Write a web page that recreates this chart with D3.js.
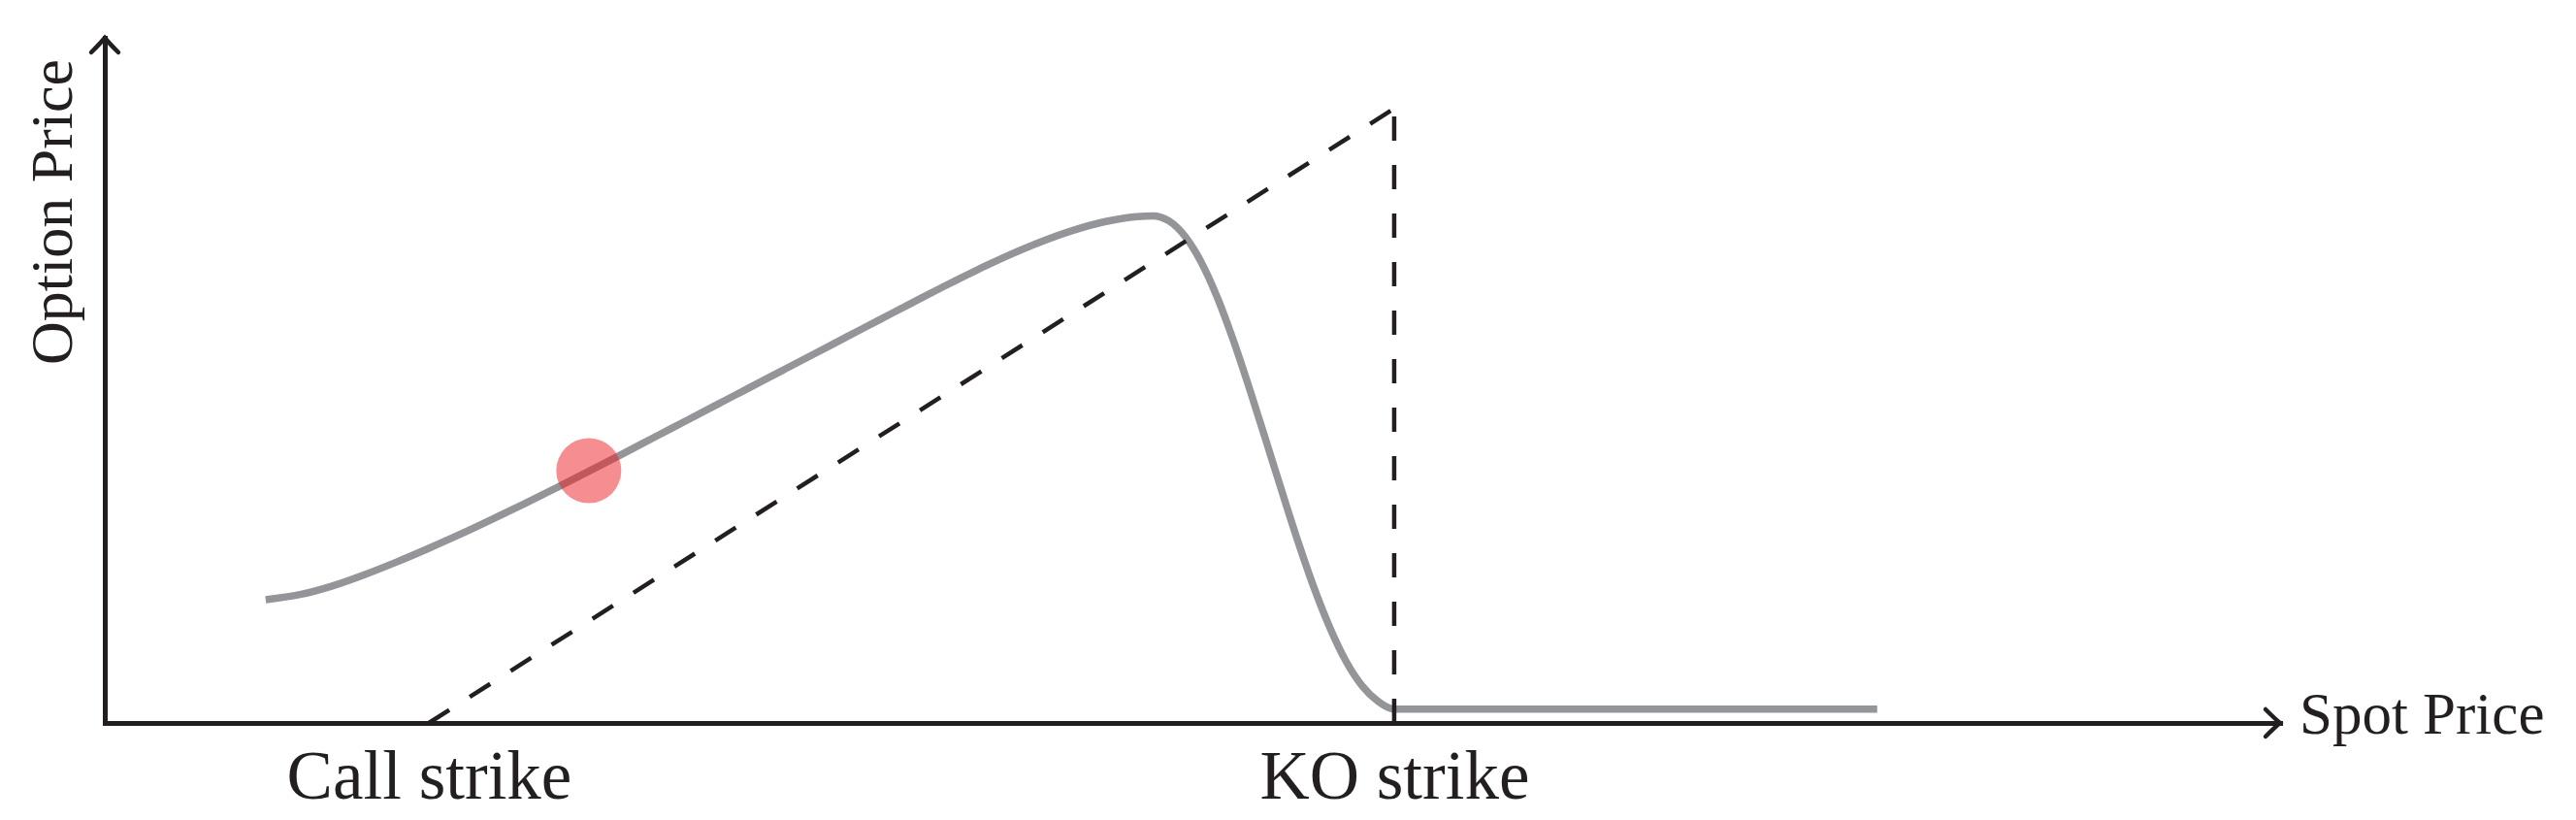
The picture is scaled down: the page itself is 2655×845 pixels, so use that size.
<!DOCTYPE html>
<html>
<head>
<meta charset="utf-8">
<script src="https://cdn.jsdelivr.net/npm/d3@7"></script>
<style>
  html, body { margin: 0; padding: 0; background: #ffffff; }
  svg { display: block; }
</style>
</head>
<body>
<svg id="chart" width="2655" height="845"></svg>
<script>
// ---------- data ----------
const spot  = [94.93, 96, 97, 98, 99, 100, 101, 102, 103, 104, 105, 106, 107, 108, 109, 110,
               111, 112, 113, 114, 115, 116, 117, 118, 119, 120, 121, 122, 122.5,
               123, 123.5, 124, 124.5, 125, 125.5, 126, 126.5, 127, 127.5, 128, 128.5,
               129, 129.5, 129.75, 130, 145.01];
const price = [6.02, 6.27, 6.69, 7.24, 7.86, 8.53, 9.23, 9.97, 10.73, 11.51, 12.31, 13.12, 13.94, 14.76, 15.58, 16.40,
               17.22, 18.04, 18.86, 19.68, 20.50, 21.31, 22.09, 22.82, 23.48, 24.04, 24.47, 24.72, 24.76,
               24.51, 23.76, 22.51, 20.79, 18.69, 16.34, 13.86, 11.36, 8.91, 6.64, 4.66, 3.02,
               1.82, 1.05, 0.80, 0.68, 0.68];

const payoffSpot  = [100, 130];
const payoffPrice = [0, 30];
const koLineSpot  = [130, 130];
const koLinePrice = [0, 30];

const dotSpot  = [104.97];
const dotPrice = [12.32];

const tickValues = [100, 130];
const tickLabels = ["Call strike", "KO strike"];
const xTitle = "Spot Price";
const yTitle = "Option Price";
const xDomain = [89.93, 157.53];
const yDomain = [0, 33.45];

// ---------- layout ----------
const ink = "#231f20";
const gray = "#939598";
const font = "'Liberation Serif', 'Times New Roman', serif";

const svg = d3.select("#chart");
const x = d3.scaleLinear().domain(xDomain).range([108, 2350]);
const y = d3.scaleLinear().domain(yDomain).range([745, 39]);

// option price curve
const curvePts = spot.map((s, i) => [s, price[i]]);
svg.append("path")
  .datum(curvePts)
  .attr("fill", "none")
  .attr("stroke", gray)
  .attr("stroke-width", 7.5)
  .attr("d", d3.line().x(d => x(d[0])).y(d => y(d[1])).curve(d3.curveMonotoneX));

// payoff dashed lines
const dashLine = d3.line().x(d => x(d[0])).y(d => y(d[1]));
svg.append("path")
  .datum(payoffSpot.map((s, i) => [s, payoffPrice[i]]))
  .attr("fill", "none").attr("stroke", ink).attr("stroke-width", 4.5)
  .attr("stroke-dasharray", "25,25")
  .attr("d", dashLine);
svg.append("path")
  .datum(koLineSpot.map((s, i) => [s, koLinePrice[i]]))
  .attr("fill", "none").attr("stroke", ink).attr("stroke-width", 4.5)
  .attr("stroke-dasharray", "25,25")
  .attr("d", dashLine);

// red dot
svg.selectAll("circle.dot")
  .data(dotSpot.map((s, i) => [s, dotPrice[i]]))
  .enter().append("circle")
  .attr("class", "dot")
  .attr("cx", d => x(d[0]))
  .attr("cy", d => y(d[1]))
  .attr("r", 33.5)
  .attr("fill", "#ed1c24")
  .attr("fill-opacity", 0.5);

// x axis
const xAxis = svg.append("g")
  .attr("transform", `translate(0,${y(0)})`)
  .call(d3.axisBottom(x).tickValues(tickValues).tickFormat((d, i) => tickLabels[i]).tickSize(0));
xAxis.select(".domain").attr("stroke", ink).attr("stroke-width", 5).attr("stroke-linecap", "square");
xAxis.selectAll(".tick line").remove();
xAxis.selectAll(".tick text")
  .attr("y", 78).attr("dy", null)
  .attr("fill", ink)
  .style("font-family", font)
  .style("font-size", "71px");

// y axis
const yAxis = svg.append("g")
  .attr("transform", `translate(${x(xDomain[0])},0)`)
  .call(d3.axisLeft(y).tickValues([]).tickSize(0));
yAxis.select(".domain").attr("stroke", ink).attr("stroke-width", 5).attr("stroke-linecap", "square");

// arrowheads
const xTip = [x(xDomain[1]), y(0)];
const yTip = [x(xDomain[0]), y(yDomain[1])];
svg.append("path")
  .attr("d", `M${xTip[0]-15},${xTip[1]-14} Q${xTip[0]-5},${xTip[1]-4} ${xTip[0]},${xTip[1]} Q${xTip[0]-5},${xTip[1]+4} ${xTip[0]-15},${xTip[1]+14}`)
  .attr("fill", "none").attr("stroke", ink).attr("stroke-width", 4.5).attr("stroke-linecap", "round");
svg.append("path")
  .attr("d", `M${yTip[0]-14},${yTip[1]+15} Q${yTip[0]-4},${yTip[1]+5} ${yTip[0]},${yTip[1]} Q${yTip[0]+4},${yTip[1]+5} ${yTip[0]+14},${yTip[1]+15}`)
  .attr("fill", "none").attr("stroke", ink).attr("stroke-width", 4.5).attr("stroke-linecap", "round");

// axis titles
svg.append("text")
  .attr("x", xTip[0] + 20).attr("y", 756)
  .attr("fill", ink)
  .style("font-family", font).style("font-size", "61px")
  .text(xTitle);

svg.append("text")
  .attr("transform", "translate(74,218.5) rotate(-90)")
  .attr("text-anchor", "middle")
  .attr("fill", ink)
  .style("font-family", font).style("font-size", "62px")
  .text(yTitle);
</script>
</body>
</html>
